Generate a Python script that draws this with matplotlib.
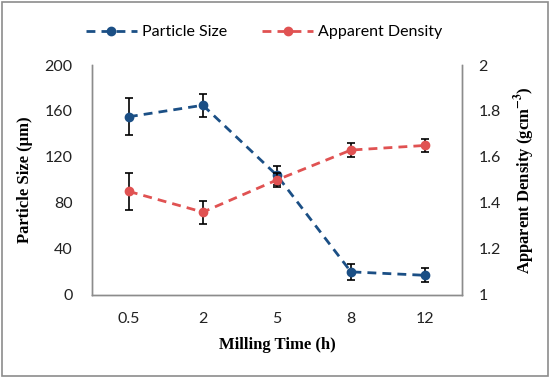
import numpy as np
import matplotlib
matplotlib.use("Agg")
import matplotlib.pyplot as plt
from matplotlib.patches import Rectangle
from matplotlib.lines import Line2D

# data
milling_time = ["0.5", "2", "5", "8", "12"]
particle_size = [155, 165, 104, 20, 17]
particle_err = [16, 10, 8, 7, 6]
density = [1.45, 1.36, 1.50, 1.63, 1.65]
density_err = [0.08, 0.05, 0.03, 0.03, 0.03]

blue = "#1B4F85"
red = "#E05252"
grey = "#8C8C8C"
dash = (0, (3.2, 2.2))

plt.rcParams["mathtext.fontset"] = "stix"

fig = plt.figure(figsize=(5.5, 3.78), dpi=100)
ax = fig.add_axes([0.167, 0.22, 0.673, 0.608])
ax2 = ax.twinx()

x = np.arange(len(milling_time)) + 0.5

ax.errorbar(x, particle_size, yerr=particle_err, color=blue, ls=dash,
            lw=2, marker="o", ms=6, ecolor="black", elinewidth=1.2, capsize=3,
            capthick=1.2, zorder=3)
ax2.errorbar(x, density, yerr=density_err, color=red, ls=dash,
             lw=2, marker="o", ms=6, ecolor="black", elinewidth=1.2, capsize=3,
             capthick=1.2, zorder=3)

ax.set_xlim(0, 5)
ax.set_ylim(0, 200)
ax.set_yticks(range(0, 201, 40))
ax2.set_ylim(1, 2)
ax2.set_yticks([1, 1.2, 1.4, 1.6, 1.8, 2])
ax2.set_yticklabels(["1", "1.2", "1.4", "1.6", "1.8", "2"])
ax.set_xticks(x)
ax.set_xticklabels(milling_time)

for a in (ax, ax2):
    a.tick_params(length=0, labelsize=11.5, pad=10, colors="#222222")
    for lab in a.get_xticklabels() + a.get_yticklabels():
        lab.set_family("Lato")
    a.spines["top"].set_visible(False)
    for s in ("left", "right", "bottom"):
        a.spines[s].set_color(grey)
        a.spines[s].set_linewidth(1)
ax.tick_params(axis="x", pad=12)
ax.tick_params(axis="y", pad=14)
ax2.tick_params(axis="y", pad=12)

ax.set_xlabel("Milling Time (h)", family="Liberation Serif", fontweight="bold",
              fontsize=12, labelpad=8)
ax.set_ylabel("Particle Size (\u03bcm)", family="Liberation Serif", fontweight="bold",
              fontsize=12, labelpad=8)
ax2.set_ylabel(r"Apparent Density (gcm$^{\mathbf{-3}}$)", family="Liberation Serif",
               fontweight="bold", fontsize=12, labelpad=8)

handles = [Line2D([], [], color=blue, ls=dash, lw=2, marker="o", ms=6),
           Line2D([], [], color=red, ls=dash, lw=2, marker="o", ms=6)]
fig.legend(handles, ["Particle Size", "Apparent Density"], loc="center",
           bbox_to_anchor=(0.48, 0.915), ncol=2, frameon=False,
           prop={"family": "Lato", "size": 11.5}, columnspacing=2.2,
           handlelength=3.2, handletextpad=0.3)

fig.patches.append(Rectangle((0.004, 0.006), 0.992, 0.99, transform=fig.transFigure,
                             fill=False, edgecolor=grey, lw=1.2))

fig.savefig("out.png", dpi=100)
